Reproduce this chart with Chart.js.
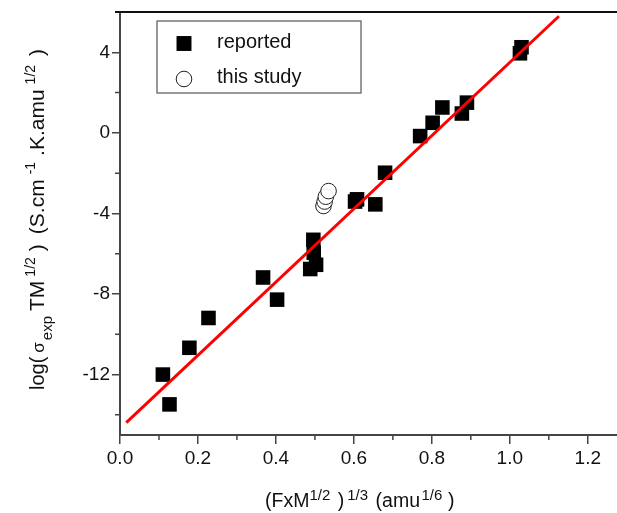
<!DOCTYPE html>
<html><head><meta charset="utf-8">
<script src="https://cdn.jsdelivr.net/npm/chart.js@4.4.1/dist/chart.umd.min.js"></script>
<style>html,body{margin:0;padding:0;background:#fff}#wrap{width:617px;height:513px}</style>
</head><body><div id="wrap"><canvas id="c" width="617" height="513"></canvas></div>
<script>
// ---- data ----
const reportedX = [0.110, 0.127, 0.178, 0.227, 0.367, 0.403, 0.488, 0.503, 0.496, 0.497, 0.603, 0.608, 0.655, 0.680, 0.770, 0.802, 0.827, 0.877, 0.890, 1.026, 1.030];
const reportedY = [-12.0, -13.48, -10.67, -9.19, -7.18, -8.28, -6.76, -6.55, -5.31, -5.95, -3.41, -3.30, -3.55, -1.98, -0.16, 0.50, 1.26, 0.96, 1.50, 3.95, 4.25];
const studyX = [0.522, 0.525, 0.528, 0.535];
const studyY = [-3.63, -3.41, -3.17, -2.89];
const fitX = [0.016, 1.126];
const fitY = [-14.39, 5.79];
const xTicks = [0, 0.2, 0.4, 0.6, 0.8, 1.0, 1.2];
const yTicks = [-12, -8, -4, 0, 4];
const xMinor = [0.1, 0.3, 0.5, 0.7, 0.9, 1.1];
const yMinor = [-14, -10, -6, -2, 2];
const legendLabels = ['reported', 'this study'];

const FONT = "'Liberation Sans', Arial, sans-serif";
const pts = (xs, ys) => xs.map((x, i) => ({x: x, y: ys[i]}));

// parts: {t, size, dy, g (gap before)}
function drawRich(ctx, parts, x, y) {
  let cx = x;
  for (const p of parts) {
    cx += p.g || 0;
    ctx.font = p.size + 'px ' + FONT;
    ctx.fillText(p.t, cx, y + (p.dy || 0));
    cx += ctx.measureText(p.t).width;
  }
}

const zeroPad = s => { s.paddingLeft = 0; s.paddingRight = 0; s.paddingTop = 0; s.paddingBottom = 0; };

const extras = {
  id: 'extras',
  afterDraw(chart) {
    const ctx = chart.ctx, a = chart.chartArea;
    const xs = chart.scales.x, ys = chart.scales.y;
    ctx.save();
    // top frame line
    ctx.strokeStyle = '#111'; ctx.lineWidth = 2;
    ctx.beginPath(); ctx.moveTo(115, a.top); ctx.lineTo(chart.width, a.top); ctx.stroke();
    // minor ticks
    ctx.strokeStyle = '#444'; ctx.lineWidth = 1.5;
    ctx.beginPath();
    for (const v of xMinor) { const p = xs.getPixelForValue(v); ctx.moveTo(p, a.bottom); ctx.lineTo(p, a.bottom + 5); }
    for (const v of yMinor) { const p = ys.getPixelForValue(v); ctx.moveTo(a.left, p); ctx.lineTo(a.left - 5, p); }
    ctx.stroke();
    // legend
    ctx.strokeStyle = '#555'; ctx.lineWidth = 1.2;
    ctx.strokeRect(157, 21, 204, 72);
    ctx.fillStyle = '#000';
    Chart.helpers.drawPoint(ctx, {pointStyle: 'rect', radius: 10.3, rotation: 0}, 184, 43.5);
    ctx.fill();
    ctx.beginPath(); ctx.arc(184, 79, 7.8, 0, Math.PI * 2);
    ctx.fillStyle = '#fff'; ctx.fill(); ctx.strokeStyle = '#222'; ctx.lineWidth = 1; ctx.stroke();
    ctx.fillStyle = '#111'; ctx.textBaseline = 'middle'; ctx.textAlign = 'left';
    ctx.font = '20px ' + FONT;
    ctx.fillText(legendLabels[0], 217, 42);
    ctx.fillText(legendLabels[1], 217, 77);
    // axis titles
    ctx.textBaseline = 'alphabetic';
    drawRich(ctx, [
      {t: '(FxM', size: 19.5}, {t: '1/2', size: 15, dy: -7}, {t: ')', size: 19.5, g: 7.5},
      {t: '1/3', size: 15, dy: -7, g: 3}, {t: '(amu', size: 19.5, g: 7.5}, {t: '1/6', size: 15, dy: -7, g: 1.5},
      {t: ')', size: 19.5, g: 5.5}
    ], 265, 507);
    ctx.translate(44, 390);
    ctx.rotate(-Math.PI / 2);
    drawRich(ctx, [
      {t: 'log(', size: 20}, {t: 'σ', size: 17, g: 4}, {t: 'exp', size: 15, dy: 8, g: 2},
      {t: 'TM', size: 21, g: 5}, {t: '1/2', size: 14, dy: -9, g: 4}, {t: ')', size: 21, g: 6},
      {t: '(S.cm', size: 21, g: 10}, {t: '-1', size: 14, dy: -9, g: 5}, {t: '.K.amu', size: 21, g: 6},
      {t: '1/2', size: 14, dy: -9, g: 5}, {t: ')', size: 21, g: 9}
    ], 0, 0);
    ctx.restore();
  }
};

new Chart(document.getElementById('c'), {
  type: 'scatter',
  data: {
    datasets: [
      {label: 'fit', type: 'line', data: pts(fitX, fitY), borderColor: '#ff0000', borderWidth: 3,
       pointRadius: 0, showLine: true, fill: false, order: 0},
      {label: legendLabels[1], data: pts(studyX, studyY), pointStyle: 'circle', pointRadius: 7.8,
       backgroundColor: 'rgba(255,255,255,0.9)', borderColor: '#222', borderWidth: 1, order: 1},
      {label: legendLabels[0], data: pts(reportedX, reportedY), pointStyle: 'rect', pointRadius: 10.3,
       backgroundColor: '#000', borderWidth: 0, order: 2}
    ]
  },
  options: {
    responsive: false, animation: false, devicePixelRatio: 1,
    layout: {autoPadding: false, padding: {top: 12, right: 0, left: 0, bottom: 0}},
    plugins: {legend: {display: false}, tooltip: {enabled: false}},
    scales: {
      x: {
        type: 'linear', min: 0, max: 1.275,
        afterBuildTicks: s => { s.ticks = xTicks.map(v => ({value: v})); },
        afterFit: s => { s.height = 78; zeroPad(s); },
        grid: {drawOnChartArea: false, drawTicks: true, tickLength: 9, color: '#444', lineWidth: 1.5},
        border: {color: '#444', width: 2},
        ticks: {font: {family: FONT, size: 19}, color: '#111', padding: 3, maxRotation: 0,
                callback: v => Number(v).toFixed(1)},
        title: {display: false}
      },
      y: {
        type: 'linear', min: -15, max: 6,
        afterBuildTicks: s => { s.ticks = yTicks.map(v => ({value: v})); },
        afterFit: s => { s.width = 120; zeroPad(s); },
        grid: {drawOnChartArea: false, drawTicks: true, tickLength: 8, color: '#444', lineWidth: 1.5},
        border: {color: '#444', width: 2},
        ticks: {font: {family: FONT, size: 19}, color: '#111', padding: 2,
                callback: v => String(v)},
        title: {display: false}
      }
    }
  },
  plugins: [extras]
});
</script></body></html>
